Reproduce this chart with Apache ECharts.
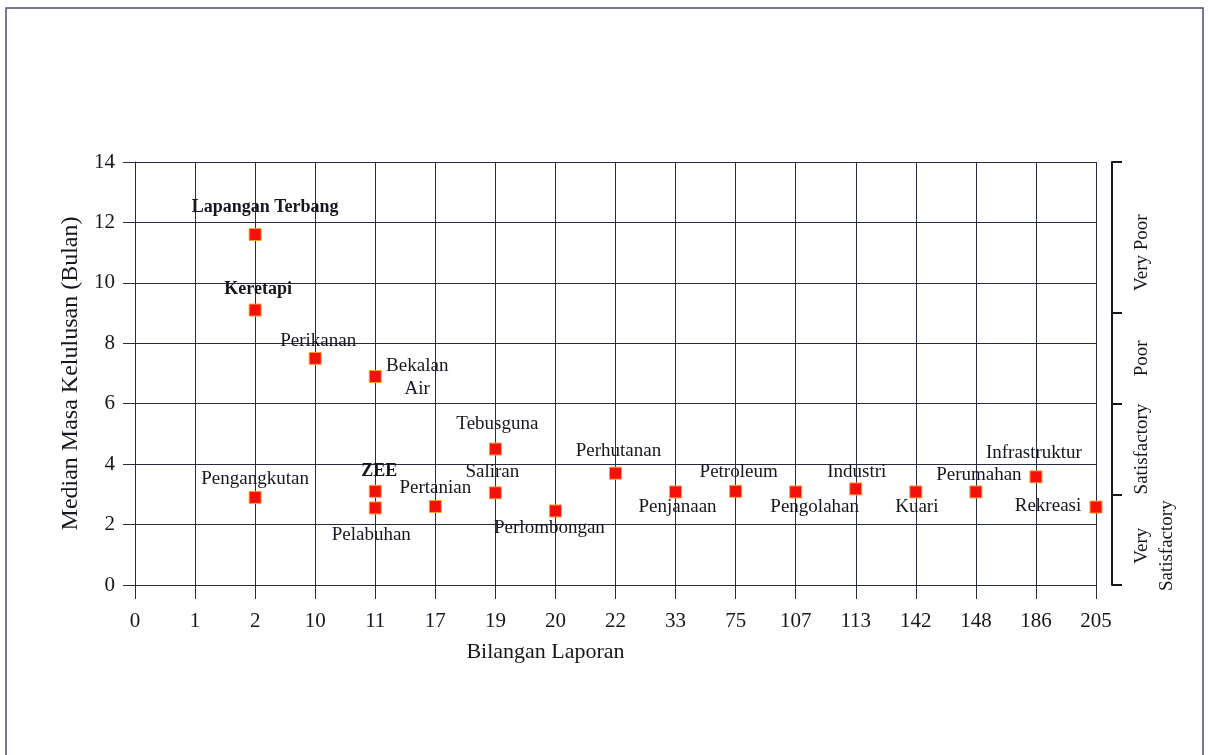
<!DOCTYPE html>
<html>
<head>
<meta charset="utf-8">
<script src="https://cdn.jsdelivr.net/npm/echarts@6/dist/echarts.min.js"></script>
<style>
html,body{margin:0;padding:0;background:#fff;}
#main{width:1211px;height:755px;}
</style>
</head>
<body>
<div id="main"></div>
<script>
// ---- data ----
const xCategories = ['0','1','2','10','11','17','19','20','22','33','75','107','113','142','148','186','205'];
const sectorNames = ['Lapangan Terbang','Keretapi','Pengangkutan','Perikanan','Bekalan Air','ZEE','Pelabuhan','Pertanian','Tebusguna','Saliran','Perlombongan','Perhutanan','Penjanaan','Petroleum','Pengolahan','Industri','Kuari','Perumahan','Infrastruktur','Rekreasi'];
const sectorReports = ['2','2','2','10','11','11','11','17','19','19','20','22','33','75','107','113','142','148','186','205'];
const sectorMedians = [11.6,9.1,2.9,7.5,6.9,3.1,2.55,2.6,4.5,3.05,2.45,3.7,3.08,3.1,3.08,3.18,3.08,3.08,3.58,2.58];
const yTicks = [0,2,4,6,8,10,12,14];
const ratingBounds = [0,3,6,9,14];
const ratingCenters = [1.3,4.5,7.5,11];
const ratingLabels = ['Very\nSatisfactory','Satisfactory','Poor','Very Poor'];

// ---- label placement (style only) ----
const labelOffsets = {
  'Lapangan Terbang':[10,-27],'Keretapi':[3,-21],'Pengangkutan':[0,-18],'Perikanan':[3,-17],
  'Bekalan Air':[42,1],'ZEE':[4,-20],'Pelabuhan':[-4,27],'Pertanian':[0,-18],'Tebusguna':[2,-25],
  'Saliran':[-3,-21],'Perlombongan':[-6,17],'Perhutanan':[3,-22],'Penjanaan':[2,15],'Petroleum':[3,-19],
  'Pengolahan':[19,15],'Industri':[1,-17],'Kuari':[1,15],'Perumahan':[3,-17],'Infrastruktur':[-2,-24],'Rekreasi':[-48,-1]
};
const boldLabels = ['Lapangan Terbang','Keretapi','ZEE'];

const FONT = 'Liberation Serif';
const INK = '#15161f';
const GRIDC = '#262a45';

const points = sectorNames.map((n,i)=>({
  name:n,
  value:[sectorReports[i], sectorMedians[i]],
  label:{
    offset:labelOffsets[n],
    fontWeight: boldLabels.includes(n) ? 'bold' : 'normal',
    fontSize: boldLabels.includes(n) ? 18 : 19,
    formatter: n==='Bekalan Air' ? 'Bekalan\nAir' : '{b}'
  }
}));

const chart = echarts.init(document.getElementById('main'));
chart.setOption({
  backgroundColor:'#fff',
  animation:false,
  grid:{left:135,right:115,top:162,bottom:170,containLabel:false},
  xAxis:{
    type:'category', data:xCategories, boundaryGap:false,
    name:'Bilangan Laporan', nameLocation:'middle', nameGap:56,
    nameTextStyle:{fontFamily:FONT,fontSize:22,color:INK,padding:[0,140,0,0]},
    axisLine:{show:true,lineStyle:{color:GRIDC,width:1}},
    axisTick:{show:true,length:14,alignWithLabel:true,lineStyle:{color:GRIDC,width:1}},
    axisLabel:{fontFamily:FONT,fontSize:21,color:INK,margin:26,interval:0},
    splitLine:{show:true,lineStyle:{color:GRIDC,width:1}}
  },
  yAxis:[{
    type:'value', min:0, max:14, interval:2,
    name:'Median Masa Kelulusan (Bulan)', nameLocation:'middle', nameGap:50,
    nameTextStyle:{fontFamily:FONT,fontSize:24,color:INK},
    axisLine:{show:true,lineStyle:{color:GRIDC,width:1}},
    axisTick:{show:true,length:12,lineStyle:{color:GRIDC,width:1}},
    axisLabel:{fontFamily:FONT,fontSize:21,color:INK,margin:20},
    splitLine:{show:true,lineStyle:{color:GRIDC,width:1}}
  },{
    type:'value', min:0, max:14, position:'right', offset:16,
    axisLine:{show:true,lineStyle:{color:'#161826',width:2}},
    axisTick:{show:true,customValues:ratingBounds,length:10,inside:false,lineStyle:{color:'#161826',width:2}},
    axisLabel:{show:true,customValues:ratingCenters,rotate:90,margin:18,hideOverlap:false,
      fontFamily:FONT,fontSize:19,color:INK,lineHeight:25,
      formatter:function(v){const k=ratingCenters.indexOf(v);return k>=0?ratingLabels[k]:'';}},
    splitLine:{show:false}
  }],
  series:[{
    type:'scatter', yAxisIndex:0,
    symbol:'rect', symbolSize:12,
    itemStyle:{color:'#f4110c',borderColor:'#f7a52a',borderWidth:1,opacity:1},
    label:{show:true,position:'inside',align:'center',verticalAlign:'middle',
      fontFamily:FONT,fontSize:19,color:INK,lineHeight:23,opacity:1},
    emphasis:{disabled:true},
    data:points
  }],
  graphic:[
    {type:'polyline',shape:{points:[[6,755],[6,8],[1203,8],[1203,755]]},style:{stroke:'#4a4f68',lineWidth:1.5,fill:null},silent:true}
  ]
});
</script>
</body>
</html>
